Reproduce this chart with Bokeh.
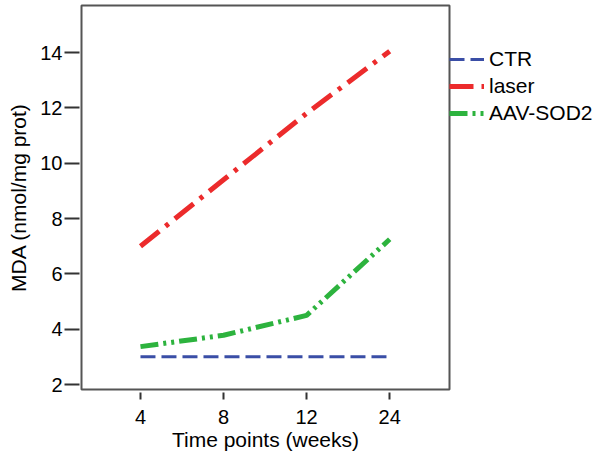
from bokeh.plotting import figure
from bokeh.models import Range1d, FixedTicker, Legend, LegendItem
from bokeh.embed import file_html
from bokeh.resources import INLINE

weeks = ["4", "8", "12", "24"]
ctr = [3.0, 3.0, 3.0, 3.0]
laser = [7.0, 9.4, 11.8, 14.05]
aav_sod2 = [3.37, 3.78, 4.5, 7.25]
y_ticks = [2, 4, 6, 8, 10, 12, 14]

x_idx = list(range(len(weeks)))

FONT = "Liberation Sans"

p = figure(frame_width=368, frame_height=384, output_backend="svg", toolbar_location=None,
           x_range=Range1d(-0.71, 3.72), y_range=Range1d(1.82, 15.70),
           min_border_left=81, min_border_right=151, min_border_top=5, min_border_bottom=66)

p.grid.visible = False
p.background_fill_color = "white"
p.border_fill_color = "white"
p.outline_line_color = "#555555"
p.outline_line_width = 2

r_ctr = p.line(x_idx, ctr, line_color="#3a4ea6", line_width=3, line_dash="15 6")
r_laser = p.line(x_idx, laser, line_color="#ec2b2c", line_width=5, line_dash="24 8 4 8")
r_aav = p.line(x_idx, aav_sod2, line_color="#2db33e", line_width=5, line_dash="18 5 3 5 3 5")

xa = p.xaxis[0]
xa.ticker = FixedTicker(ticks=x_idx)
xa.major_label_overrides = {i: w for i, w in zip(x_idx, weeks)}
xa.axis_label = "Time points (weeks)"

ya = p.yaxis[0]
ya.ticker = FixedTicker(ticks=y_ticks)
ya.axis_label = "MDA (nmol/mg prot)"

for ax in (xa, ya):
    ax.axis_line_color = None
    ax.major_tick_line_color = "#333333"
    ax.major_tick_line_width = 2
    ax.minor_tick_line_color = None
    ax.major_label_text_font = FONT
    ax.major_label_text_font_size = "20px"
    ax.major_label_text_color = "black"
    ax.axis_label_text_font = FONT
    ax.axis_label_text_font_size = "21px"
    ax.axis_label_text_font_style = "normal"
    ax.axis_label_text_color = "black"

xa.major_tick_in = -3
xa.major_tick_out = 10
xa.major_label_standoff = 10
xa.axis_label_standoff = 1
ya.major_tick_in = -2
ya.major_tick_out = 17
ya.major_label_standoff = 2
ya.axis_label_standoff = 7

legend = Legend(items=[LegendItem(label="CTR", renderers=[r_ctr]),
                       LegendItem(label="laser", renderers=[r_laser]),
                       LegendItem(label="AAV-SOD2", renderers=[r_aav])],
                location="top_left", orientation="vertical",
                title=" ", title_text_font_size="20px", title_standoff=19,
                border_line_color=None, background_fill_alpha=0,
                glyph_width=35, glyph_height=20, label_height=20, spacing=3,
                label_standoff=5, padding=4, margin=0,
                label_text_font=FONT, label_text_font_size="21px", label_text_color="black")
p.add_layout(legend, "right")

open("out.html", "w").write(file_html(p, INLINE))
